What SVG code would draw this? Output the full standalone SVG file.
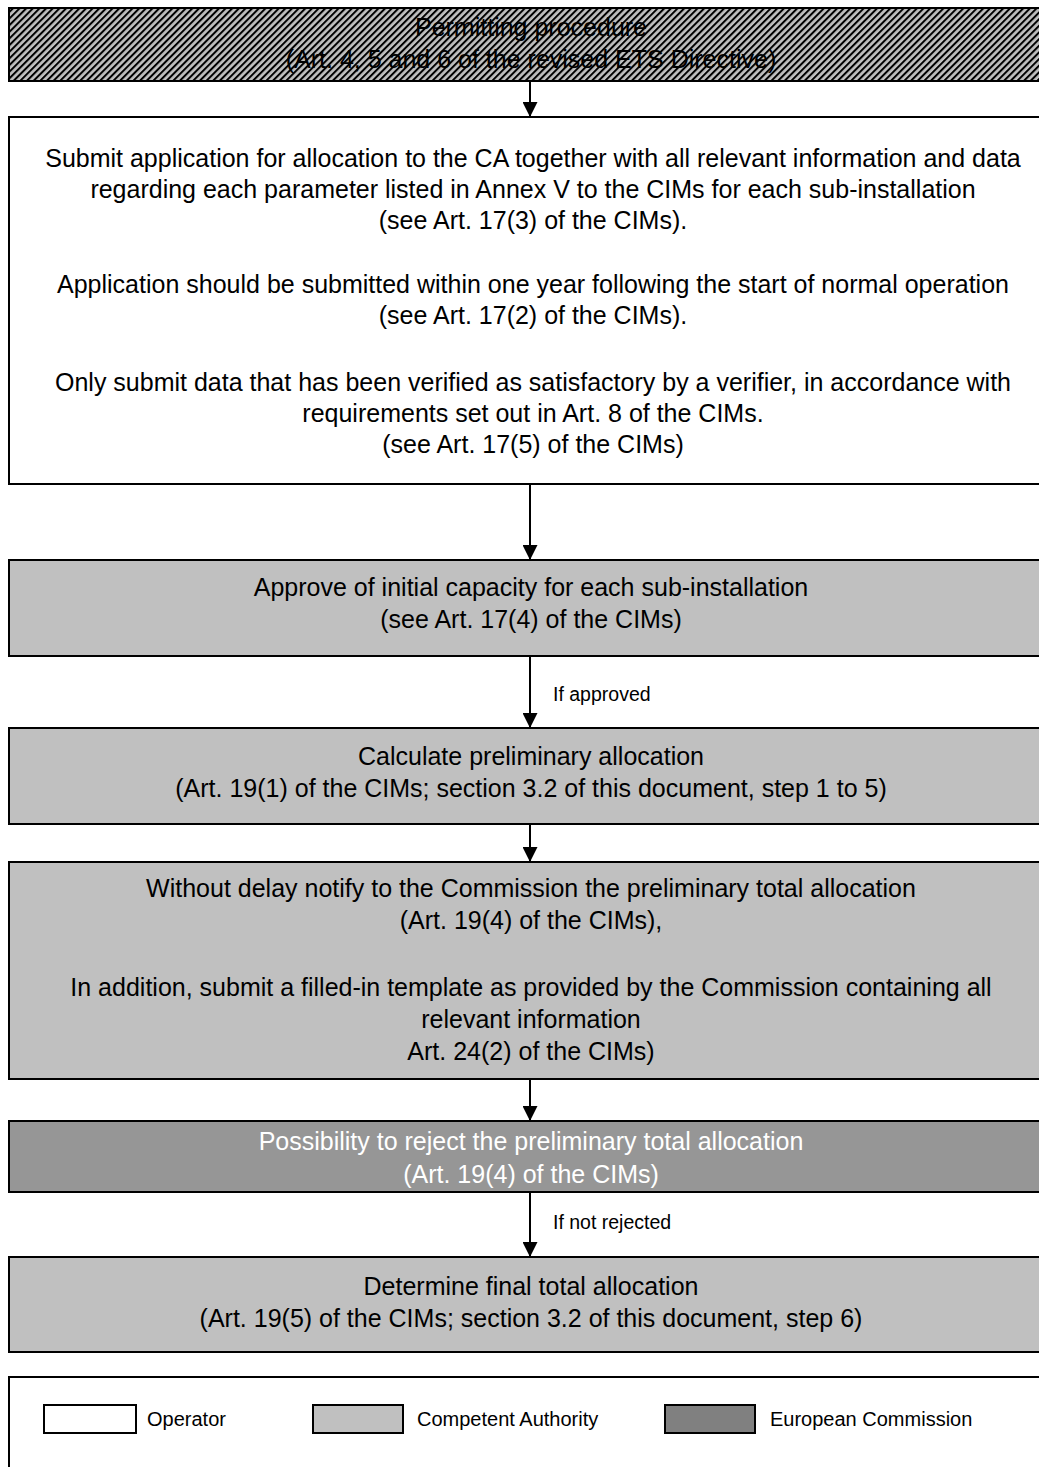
<svg xmlns="http://www.w3.org/2000/svg" width="1039" height="1467" viewBox="0 0 1039 1467">
<defs>
<pattern id="hatch" width="4.7" height="4.7" patternUnits="userSpaceOnUse" patternTransform="rotate(45)">
<rect width="4.7" height="4.7" fill="#c0c0c0"/>
<rect width="2" height="4.7" fill="#000"/>
</pattern>
<marker id="ah" viewBox="0 0 15 15" refX="15" refY="7.5" markerWidth="15" markerHeight="15" markerUnits="userSpaceOnUse" orient="auto">
<path d="M0,0 L15,7.5 L0,15 Z" fill="#000"/>
</marker>
</defs>
<style>
.box{stroke:#000;stroke-width:2}
.op{fill:#fff}
.ca{fill:#c0c0c0}
.ec{fill:#969696}
.t{font-family:"Liberation Sans",Arial,sans-serif;font-size:25px;fill:#000;text-anchor:middle}
.tw{fill:#fff}
.lbl{font-family:"Liberation Sans",Arial,sans-serif;font-size:19.5px;fill:#000}
.lg{font-family:"Liberation Sans",Arial,sans-serif;font-size:20px;fill:#000}
.conn{stroke:#000;stroke-width:2;fill:none;marker-end:url(#ah)}
</style>
<rect width="1039" height="1467" fill="#fff"/>

<g id="n1">
<rect class="box" x="9" y="8" width="1050" height="73" fill="url(#hatch)"/>
<text class="t" x="531" y="36">Permitting procedure</text>
<text class="t" x="531" y="68">(Art. 4, 5 and 6 of the revised ETS Directive)</text>
</g>

<g id="n2">
<rect class="box op" x="9" y="117" width="1050" height="367"/>
<text class="t" x="533" y="167">Submit application for allocation to the CA together with all relevant information and data</text>
<text class="t" x="533" y="198">regarding each parameter listed in Annex V to the CIMs for each sub-installation</text>
<text class="t" x="533" y="229">(see Art. 17(3) of the CIMs).</text>
<text class="t" x="533" y="293">Application should be submitted within one year following the start of normal operation</text>
<text class="t" x="533" y="324">(see Art. 17(2) of the CIMs).</text>
<text class="t" x="533" y="391">Only submit data that has been verified as satisfactory by a verifier, in accordance with</text>
<text class="t" x="533" y="422">requirements set out in Art. 8 of the CIMs.</text>
<text class="t" x="533" y="453">(see Art. 17(5) of the CIMs)</text>
</g>

<g id="n3">
<rect class="box ca" x="9" y="560" width="1050" height="96"/>
<text class="t" x="531" y="596">Approve of initial capacity for each sub-installation</text>
<text class="t" x="531" y="628">(see Art. 17(4) of the CIMs)</text>
</g>

<g id="n4">
<rect class="box ca" x="9" y="728" width="1050" height="96"/>
<text class="t" x="531" y="765">Calculate preliminary allocation</text>
<text class="t" x="531" y="797">(Art. 19(1) of the CIMs; section 3.2 of this document, step 1 to 5)</text>
</g>

<g id="n5">
<rect class="box ca" x="9" y="862" width="1050" height="217"/>
<text class="t" x="531" y="897">Without delay notify to the Commission the preliminary total allocation</text>
<text class="t" x="531" y="929">(Art. 19(4) of the CIMs),</text>
<text class="t" x="531" y="996">In addition, submit a filled-in template as provided by the Commission containing all</text>
<text class="t" x="531" y="1028">relevant information</text>
<text class="t" x="531" y="1060">Art. 24(2) of the CIMs)</text>
</g>

<g id="n6">
<rect class="box ec" x="9" y="1121" width="1050" height="71"/>
<text class="t tw" x="531" y="1150">Possibility to reject the preliminary total allocation</text>
<text class="t tw" x="531" y="1183">(Art. 19(4) of the CIMs)</text>
</g>

<g id="n7">
<rect class="box ca" x="9" y="1257" width="1050" height="95"/>
<text class="t" x="531" y="1295">Determine final total allocation</text>
<text class="t" x="531" y="1327">(Art. 19(5) of the CIMs; section 3.2 of this document, step 6)</text>
</g>

<g id="connectors">
<line class="conn" x1="530" y1="81" x2="530" y2="117"/>
<line class="conn" x1="530" y1="484" x2="530" y2="560"/>
<line class="conn" x1="530" y1="656" x2="530" y2="728"/>
<line class="conn" x1="530" y1="824" x2="530" y2="862"/>
<line class="conn" x1="530" y1="1079" x2="530" y2="1121"/>
<line class="conn" x1="530" y1="1192" x2="530" y2="1257"/>
<text class="lbl" x="553" y="701">If approved</text>
<text class="lbl" x="553" y="1229">If not rejected</text>
</g>

<g id="legend">
<rect class="box op" x="9" y="1377" width="1050" height="110"/>
<rect class="box op" x="44" y="1405" width="92" height="28"/>
<text class="lg" x="147" y="1426">Operator</text>
<rect class="box ca" x="313" y="1405" width="90" height="28"/>
<text class="lg" x="417" y="1426">Competent Authority</text>
<rect class="box" x="665" y="1405" width="90" height="28" fill="#808080"/>
<text class="lg" x="770" y="1426">European Commission</text>
</g>
</svg>
